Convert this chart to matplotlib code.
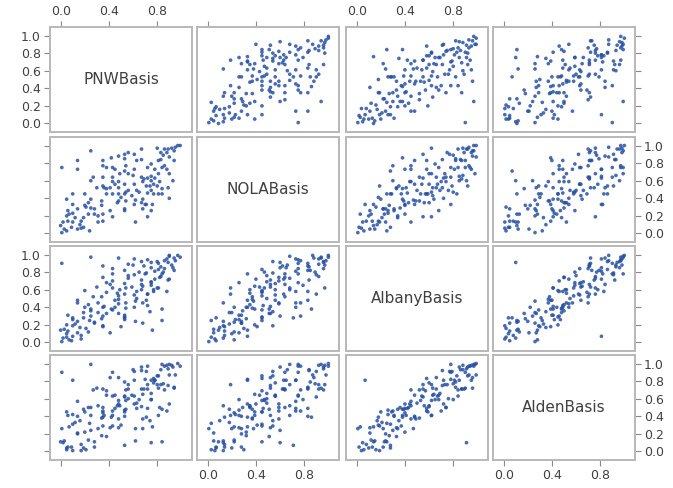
import matplotlib

matplotlib.use("Agg")
import matplotlib.pyplot as plt

plt.rcParams["font.family"] = ["DejaVu Sans"]

names = ["PNWBasis", "NOLABasis", "AlbanyBasis", "AldenBasis"]
xticks = [0.0, 0.4, 0.8]
yticks = [0.0, 0.2, 0.4, 0.6, 0.8, 1.0]

# values (approximate)
pnw = [0.99, 0.97, 0.95, 0.94, 0.92, 0.89, 0.86, 0.88, 0.85, 0.83,
       0.81, 0.80, 0.94, 0.86, 0.84, 0.88, 0.90, 0.81, 0.78, 0.75,
       0.72, 0.69, 0.67, 0.68, 0.71, 0.74, 0.77, 0.80, 0.82, 0.84,
       0.81, 0.84, 0.77, 0.75, 0.72, 0.90, 0.76, 0.71, 0.68, 0.72,
       0.62, 0.68, 0.62, 0.54, 0.54, 0.53, 0.56, 0.48, 0.43, 0.38,
       0.36, 0.41, 0.48, 0.43, 0.48, 0.56, 0.61, 0.54, 0.53, 0.53,
       0.56, 0.61, 0.63, 0.67, 0.67, 0.48, 0.42, 0.43, 0.45, 0.38,
       0.35, 0.35, 0.25, 0.14, 0.14, 0.01, 0.27, 0.25, 0.35, 0.35,
       0.10, 0.20, 0.05, 0.10, 0.23, 0.21, 0.25, 0.34, 0.35, 0.35,
       0.28, 0.23, 0.43, 0.53, 0.47, 0.10, 0.05, 0.02, 0.06, 0.12,
       0.17, 0.16, 0.17, 0.19, 0.14, 0.09, 0.05, 0.01, 0.03, 0.24,
       0.10, 0.19, 0.75, 0.70, 0.53, 0.48, 0.59, 0.65, 0.61, 0.53,
       0.45, 0.38, 0.60, 0.49, 0.43, 0.78, 0.72, 0.75, 0.28, 0.06,
       0.25, 0.34, 0.07, 0.00, 0.31, 0.20, 0.61, 0.67, 0.89, 0.93,
       0.90, 0.83, 0.53, 0.30, 0.14, 0.41, 0.75, 0.63, 0.31, 0.50]
nola = [1.00, 1.00, 0.98, 0.94, 0.97, 0.96, 0.96, 0.92, 0.89, 0.84,
        0.83, 0.97, 0.83, 0.77, 0.75, 0.73, 0.68, 0.68, 0.63, 0.65,
        0.63, 0.62, 0.64, 0.59, 0.54, 0.54, 0.56, 0.54, 0.59, 0.51,
        0.45, 0.45, 0.45, 0.49, 0.46, 0.40, 0.33, 0.33, 0.28, 0.19,
        0.13, 0.39, 0.38, 0.37, 0.47, 0.45, 0.49, 0.45, 0.45, 0.45,
        0.52, 0.52, 0.52, 0.59, 0.59, 0.68, 0.73, 0.77, 0.85, 0.90,
        0.92, 0.90, 0.83, 0.96, 0.84, 0.88, 0.86, 0.75, 0.73, 0.75,
        0.77, 0.83, 0.94, 0.83, 0.73, 0.75, 0.64, 0.60, 0.64, 0.54,
        0.45, 0.45, 0.39, 0.33, 0.35, 0.30, 0.29, 0.32, 0.22, 0.14,
        0.22, 0.22, 0.19, 0.28, 0.35, 0.23, 0.20, 0.13, 0.14, 0.18,
        0.14, 0.10, 0.06, 0.07, 0.05, 0.07, 0.03, 0.01, 0.05, 0.03,
        0.13, 0.18, 0.26, 0.33, 0.26, 0.37, 0.43, 0.47, 0.56, 0.56,
        0.56, 0.51, 0.66, 0.68, 0.64, 0.73, 0.75, 0.79, 0.28, 0.26,
        0.39, 0.37, 0.22, 0.09, 0.13, 0.32, 0.33, 0.35, 0.52, 0.60,
        0.87, 0.92, 0.71, 0.52, 0.28, 0.26, 0.60, 0.49, 0.20, 0.41]
albany = [0.97, 0.99, 0.93, 0.96, 0.88, 0.91, 0.84, 0.95, 0.80, 0.86,
          0.90, 0.62, 0.82, 0.93, 0.78, 0.58, 0.98, 0.62, 0.72, 0.85,
          0.55, 0.87, 0.66, 0.45, 0.79, 0.35, 0.60, 0.92, 0.74, 0.38,
          0.83, 0.25, 0.58, 0.69, 0.42, 0.72, 0.14, 0.48, 0.22, 0.55,
          0.24, 0.64, 0.47, 0.39, 0.62, 0.29, 0.76, 0.53, 0.37, 0.57,
          0.41, 0.66, 0.33, 0.70, 0.44, 0.73, 0.95, 0.45, 0.82, 0.55,
          0.89, 0.77, 0.58, 0.92, 0.71, 0.96, 0.38, 0.84, 0.40, 0.68,
          0.30, 0.87, 0.97, 0.48, 0.45, 0.90, 0.52, 0.30, 0.74, 0.19,
          0.28, 0.59, 0.20, 0.07, 0.43, 0.16, 0.36, 0.27, 0.40, 0.18,
          0.23, 0.12, 0.62, 0.31, 0.56, 0.26, 0.10, 0.05, 0.13, 0.21,
          0.08, 0.17, 0.04, 0.28, 0.11, 0.02, 0.06, 0.01, 0.15, 0.25,
          0.19, 0.34, 0.68, 0.78, 0.26, 0.49, 0.63, 0.80, 0.54, 0.67,
          0.48, 0.33, 0.88, 0.60, 0.78, 0.81, 0.94, 0.65, 0.22, 0.31,
          0.38, 0.52, 0.03, 0.14, 0.45, 0.40, 0.40, 0.60, 0.71, 0.85,
          0.99, 0.75, 0.28, 0.63, 0.24, 0.11, 0.91, 0.50, 0.34, 0.18]
alden = [0.97, 1.00, 0.87, 0.72, 0.98, 0.94, 0.70, 0.98, 0.77, 0.93,
         0.72, 0.76, 0.73, 0.97, 0.99, 0.46, 0.99, 0.41, 0.81, 0.81,
         0.71, 0.71, 0.71, 0.37, 0.91, 0.35, 0.78, 0.86, 0.50, 0.48,
         0.86, 0.11, 0.83, 0.66, 0.49, 0.54, 0.28, 0.39, 0.26, 0.76,
         0.12, 0.65, 0.26, 0.48, 0.58, 0.45, 0.60, 0.58, 0.29, 0.69,
         0.41, 0.84, 0.27, 0.46, 0.54, 0.76, 0.81, 0.70, 0.79, 0.62,
         0.71, 0.91, 0.49, 0.96, 0.92, 0.84, 0.39, 0.63, 0.49, 0.64,
         0.46, 0.71, 0.99, 0.40, 0.57, 0.90, 0.70, 0.24, 0.50, 0.29,
         0.31, 0.45, 0.45, 0.81, 0.50, 0.02, 0.50, 0.18, 0.44, 0.39,
         0.11, 0.13, 0.41, 0.40, 0.52, 0.42, 0.04, 0.10, 0.05, 0.33,
         0.08, 0.35, 0.01, 0.04, 0.21, 0.05, 0.02, 0.26, 0.12, 0.32,
         0.01, 0.48, 0.59, 0.82, 0.47, 0.37, 0.64, 0.59, 0.63, 0.63,
         0.64, 0.17, 0.93, 0.52, 0.90, 0.81, 0.97, 0.59, 0.05, 0.41,
         0.41, 0.38, 0.28, 0.11, 0.52, 0.22, 0.54, 0.51, 0.75, 0.96,
         0.87, 0.76, 0.07, 0.72, 0.20, 0.27, 0.10, 0.55, 0.26, 0.30]

cols = [pnw, nola, albany, alden]

# panel geometry in pixels (673 x 488 canvas)
W, H = 673, 488
lefts = [50, 197, 346, 493]
tops = [27, 137, 246, 355]
pw, ph = 142, 105

frame_col = "#b8b8b8"
text_col = "#404040"
pt_col = "#2a52a3"

fig = plt.figure(figsize=(W / 100, H / 100), dpi=100)
n = len(cols)
for i in range(n):
    for j in range(n):
        ax = fig.add_axes([lefts[j] / W, 1 - (tops[i] + ph) / H, pw / W, ph / H])
        ax.set_xlim(-0.088, 1.088)
        ax.set_ylim(-0.097, 1.097)
        for s in ax.spines.values():
            s.set_color(frame_col)
            s.set_linewidth(1.4)
        if i == j:
            ax.text(0.5, 0.5, names[i], transform=ax.transAxes, ha="center",
                    va="center", fontsize=11, color=text_col)
        else:
            ax.scatter(cols[j], cols[i], s=7, color=pt_col, edgecolors="none",
                       alpha=0.85)
        ax.set_xticks(xticks)
        ax.set_yticks(yticks)
        ax.set_xticklabels([f"{v:.1f}" for v in xticks])
        ax.set_yticklabels([f"{v:.1f}" for v in yticks])
        ax.tick_params(direction="out", length=4, width=0.8, color="#8a8a8a",
                       labelsize=9, labelcolor=text_col, pad=2.5,
                       top=(i == 0), bottom=(i == n - 1),
                       left=(j == 0), right=(j == n - 1),
                       labeltop=(i == 0 and j % 2 == 0),
                       labelbottom=(i == n - 1 and j % 2 == 1),
                       labelleft=(j == 0 and i % 2 == 0),
                       labelright=(j == n - 1 and i % 2 == 1))

fig.savefig("out.png", dpi=100)
